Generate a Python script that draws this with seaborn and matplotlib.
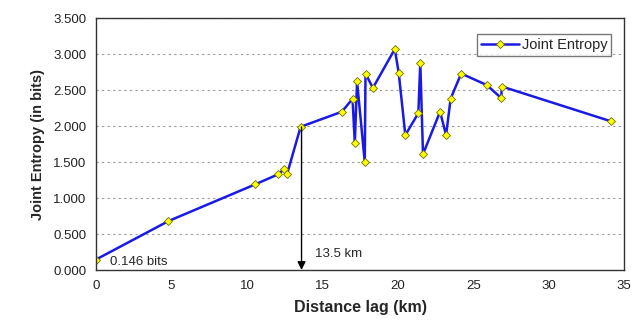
import matplotlib
matplotlib.use("Agg")
import matplotlib.pyplot as plt
import seaborn as sns
import pandas as pd
from matplotlib.ticker import FormatStrFormatter, MultipleLocator

distance_km = [0.0, 4.8, 10.55, 12.07, 12.45, 12.67, 13.56, 16.3, 17.0, 17.15, 17.3,
               17.81, 17.86, 18.35, 19.8, 20.06, 20.5, 21.36, 21.49, 21.67, 22.8,
               23.2, 23.5, 24.2, 25.9, 26.85, 26.9, 34.15]
joint_entropy = [0.146, 0.68, 1.19, 1.33, 1.40, 1.34, 1.99, 2.20, 2.38, 1.77, 2.62,
                 1.50, 2.73, 2.53, 3.07, 2.74, 1.875, 2.18, 2.88, 1.61, 2.20,
                 1.875, 2.38, 2.73, 2.57, 2.39, 2.55, 2.065]
series_name = "Joint Entropy"

df = pd.DataFrame({"Distance lag (km)": distance_km, series_name: joint_entropy})

sns.set_style("white")
plt.rcParams["font.family"] = ["Liberation Sans", "DejaVu Sans"]

fig = plt.figure(figsize=(6.33, 3.30), dpi=100)
ax = fig.add_axes([0.1517, 0.1818, 0.986 - 0.1517, 0.945 - 0.1818])

sns.lineplot(data=df, x="Distance lag (km)", y=series_name, ax=ax, sort=False,
             color="#1a1ae6", linewidth=1.8, marker="D", markersize=4.3,
             markerfacecolor="#ffff00", markeredgecolor="#707000", markeredgewidth=0.6,
             label=series_name)

ax.set_xlim(0, 35)
ax.set_ylim(0, 3.5)
ax.xaxis.set_major_locator(MultipleLocator(5))
ax.yaxis.set_major_locator(MultipleLocator(0.5))
ax.yaxis.set_major_formatter(FormatStrFormatter("%.3f"))
ax.grid(axis="y", linestyle=(0, (2, 3)), color="#9a9a9a", linewidth=0.8)
ax.set_axisbelow(True)
for s in ax.spines.values():
    s.set_color("#333333")
    s.set_linewidth(1.0)
ax.tick_params(axis="x", direction="inout", length=6, width=1, labelsize=9.5, pad=4, colors="#222222")
ax.tick_params(axis="y", direction="out", length=4, width=1, labelsize=9.5, pad=3, colors="#222222")
ax.set_xlabel("Distance lag (km)", fontsize=11.5, fontweight="bold", labelpad=6)
ax.set_ylabel("Joint Entropy (in bits)", fontsize=10.5, fontweight="bold", labelpad=6)

# annotations
ax.annotate("", xy=(13.62, 0.0), xytext=(13.62, 1.99),
            arrowprops=dict(arrowstyle="-|>", color="black", lw=1.0, mutation_scale=12,
                            shrinkA=0, shrinkB=0))
ax.text(14.5, 0.22, "13.5 km", fontsize=9.5, va="center", ha="left")
ax.text(0.9, 0.11, "0.146 bits", fontsize=9.5, va="center", ha="left")

leg = ax.legend(loc="upper right", frameon=True, fancybox=False, fontsize=10.5,
                borderpad=0.25, handlelength=2.6, handletextpad=0.2,
                bbox_to_anchor=(0.9886, 0.965))
leg.get_frame().set_edgecolor("#555555")
leg.get_frame().set_linewidth(1.0)

fig.savefig("out.png", dpi=100)
